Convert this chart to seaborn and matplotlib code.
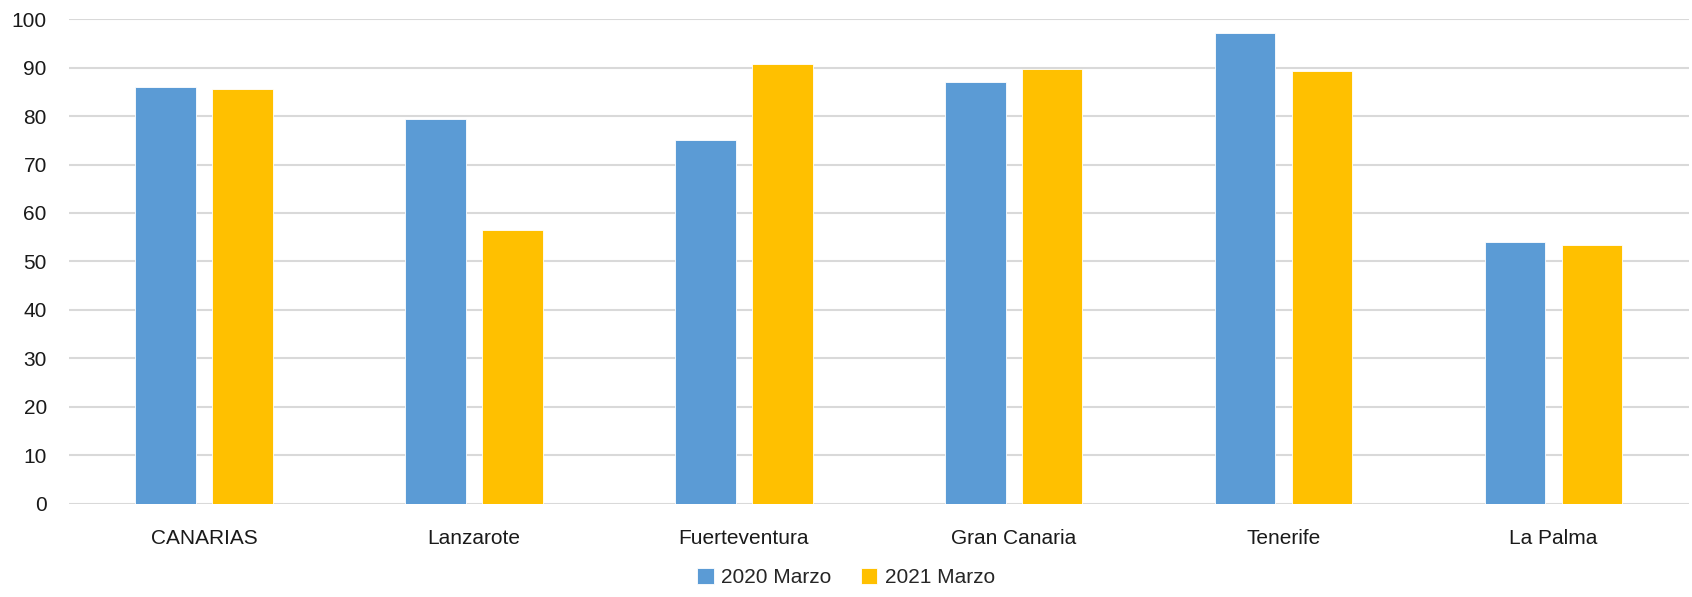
import matplotlib
matplotlib.use("Agg")
import matplotlib.pyplot as plt
import seaborn as sns
import pandas as pd

# Datos
islas = ["CANARIAS", "Lanzarote", "Fuerteventura", "Gran Canaria", "Tenerife", "La Palma"]
marzo_2020 = [86.1, 79.4, 75.1, 87.0, 97.1, 54.0]
marzo_2021 = [85.7, 56.5, 90.7, 89.8, 89.4, 53.3]
series = ["2020 Marzo", "2021 Marzo"]
colores = ["#5B9BD5", "#FFC000"]

df = pd.DataFrame({
    "Isla": islas * 2,
    "Serie": [series[0]] * len(islas) + [series[1]] * len(islas),
    "Valor": marzo_2020 + marzo_2021,
})

sns.set_theme(style="white")
plt.rcParams["font.family"] = ["Liberation Sans", "DejaVu Sans"]

fig = plt.figure(figsize=(16.92, 5.97), dpi=100)
ax = fig.add_axes([0.0408, 0.1566, 0.9572, 0.8111])

sns.barplot(
    data=df, x="Isla", y="Valor", hue="Serie", order=islas, hue_order=series,
    palette=colores, saturation=1, width=0.57, gap=0.214, errorbar=None,
    edgecolor="white", linewidth=0.6, ax=ax, zorder=3,
)

ax.set_ylim(0, 100)
ax.set_xlim(-0.5, len(islas) - 0.5)
ax.set_yticks(range(0, 101, 10))
ax.yaxis.grid(True, color="#d9d9d9", linewidth=1.5, zorder=0)
ax.set_axisbelow(True)
for s in ax.spines.values():
    s.set_visible(False)
ax.tick_params(axis="y", length=0, pad=16, labelsize=15, labelcolor="#1a1a1a")
ax.tick_params(axis="x", length=0, pad=18, labelsize=15, labelcolor="#1a1a1a")
ax.set_xlabel("")
ax.set_ylabel("")

ax.legend_.remove()
handles, labels = ax.get_legend_handles_labels()
fig.legend(handles, labels, loc="lower center", bbox_to_anchor=(0.5, -0.015), ncol=2,
           frameon=False, fontsize=15, handlelength=0.8, handleheight=0.8,
           handletextpad=0.35, columnspacing=1.4)

fig.savefig("out.png", dpi=100)
